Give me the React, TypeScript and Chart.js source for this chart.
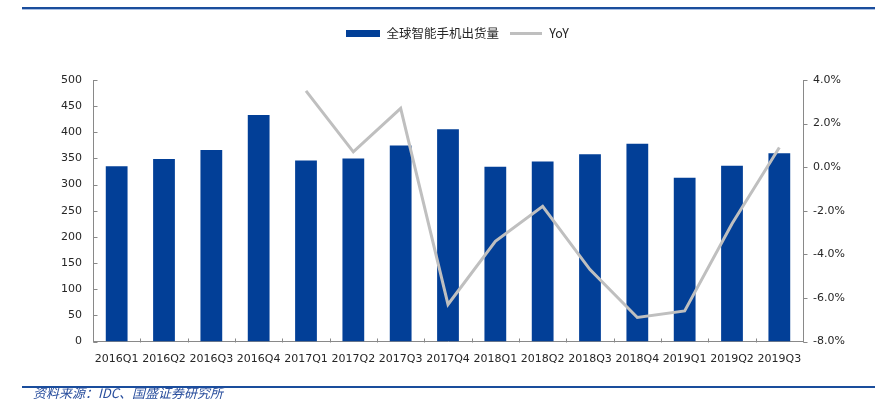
import React, { useEffect, useRef } from 'react';
import { Chart, registerables } from 'chart.js';

Chart.register(...registerables);

// ---- data ----
const categories = [
  '2016Q1', '2016Q2', '2016Q3', '2016Q4',
  '2017Q1', '2017Q2', '2017Q3', '2017Q4',
  '2018Q1', '2018Q2', '2018Q3', '2018Q4',
  '2019Q1', '2019Q2', '2019Q3',
];
const shipments = [335, 349, 366, 433, 346, 350, 375, 406, 334, 344, 358, 378, 313, 336, 360];
const yoyPct = [null, null, null, null, 3.5, 0.7, 2.7, -6.3, -3.4, -1.8, -4.7, -6.9, -6.6, -2.6, 0.9];
const seriesNames = ['全球智能手机出货量', 'YoY'];
const sourceNote = '资料来源：IDC、国盛证券研究所';
const leftAxis = { min: 0, max: 500, step: 50 };
const rightAxis = { min: -8, max: 4, step: 2 };

// ---- styles ----
const BAR_COLOR = '#023F97';
const LINE_COLOR = '#BFBFBF';
const AXIS_COLOR = '#898989';
const TEXT_COLOR = '#262626';
const TICK_FONT = { family: "'DejaVu Sans', sans-serif", size: 11 };
const LEGEND_FONT = { family: "'Noto Sans CJK SC', sans-serif", size: 12.5 };

const tickMarks = {
  id: 'tickMarks',
  afterDraw(chart: any) {
    const { ctx, chartArea: a, scales } = chart;
    ctx.save();
    ctx.strokeStyle = AXIS_COLOR;
    ctx.lineWidth = 1;
    ctx.beginPath();
    const lx = Math.round(a.left) + 0.5;
    const rx = Math.round(a.right) + 0.5;
    scales.y.ticks.forEach((t: any) => {
      const yy = Math.round(scales.y.getPixelForValue(t.value)) + 0.5;
      ctx.moveTo(lx, yy);
      ctx.lineTo(lx + 4, yy);
    });
    scales.y1.ticks.forEach((t: any) => {
      const yy = Math.round(scales.y1.getPixelForValue(t.value)) + 0.5;
      ctx.moveTo(rx, yy);
      ctx.lineTo(rx + 4, yy);
    });
    const n = categories.length;
    const w = scales.x.width / n;
    const by = Math.round(a.bottom) + 0.5;
    for (let i = 0; i <= n; i++) {
      const xx = Math.round(scales.x.getPixelForValue(Math.min(i, n - 1)) + (i < n ? -w / 2 : w / 2)) + 0.5;
      ctx.moveTo(xx, by);
      ctx.lineTo(xx, by - 4);
    }
    ctx.stroke();
    ctx.restore();
  },
};

export default function App() {
  const ref = useRef<HTMLCanvasElement | null>(null);

  useEffect(() => {
    if (!ref.current) return;
    const barSwatch = document.createElement('canvas');
    barSwatch.width = 34;
    barSwatch.height = 7;
    const bctx = barSwatch.getContext('2d')!;
    bctx.fillStyle = BAR_COLOR;
    bctx.fillRect(0, 0, 34, 7);
    const lineSwatch = document.createElement('canvas');
    lineSwatch.width = 32;
    lineSwatch.height = 3;
    const lctx = lineSwatch.getContext('2d')!;
    lctx.fillStyle = LINE_COLOR;
    lctx.fillRect(0, 0, 32, 3);

    const chart = new Chart(ref.current, {
      type: 'bar',
      data: {
        labels: categories,
        datasets: [
          {
            type: 'bar',
            label: seriesNames[0],
            data: shipments,
            backgroundColor: BAR_COLOR,
            yAxisID: 'y',
            xAxisID: 'x',
            barPercentage: 0.46,
            categoryPercentage: 1,
            order: 1,
          },
          {
            type: 'line',
            label: seriesNames[1],
            data: yoyPct as any,
            borderColor: LINE_COLOR,
            backgroundColor: LINE_COLOR,
            borderWidth: 3,
            pointRadius: 0,
            tension: 0,
            spanGaps: false,
            yAxisID: 'y1',
            xAxisID: 'x',
            order: 0,
          },
        ],
      },
      options: {
        responsive: false,
        animation: false,
        devicePixelRatio: 1,
        layout: { padding: { left: 40, top: 17, right: 0, bottom: 0 } },
        plugins: {
          legend: {
            position: 'top',
            labels: {
              usePointStyle: true,
              pointStyleWidth: 34,
              padding: 10,
              font: LEGEND_FONT,
              color: TEXT_COLOR,
              generateLabels: () => [
                { text: seriesNames[0], pointStyle: barSwatch, fillStyle: BAR_COLOR, strokeStyle: BAR_COLOR, lineWidth: 0, hidden: false, datasetIndex: 0, fontColor: TEXT_COLOR },
                { text: seriesNames[1], pointStyle: lineSwatch, fillStyle: LINE_COLOR, strokeStyle: LINE_COLOR, lineWidth: 0, hidden: false, datasetIndex: 1, fontColor: TEXT_COLOR },
              ] as any,
            },
          },
          tooltip: { enabled: false },
        },
        scales: {
          x: {
            grid: { display: false, drawTicks: false },
            border: { display: true, color: AXIS_COLOR },
            ticks: { font: TICK_FONT, color: TEXT_COLOR, padding: 11, maxRotation: 0, autoSkip: false },
            afterFit: (s: any) => { s.height = 59.5; },
          },
          // invisible spacer between the legend and the plot area
          xTop: {
            type: 'category',
            position: 'top',
            grid: { display: false, drawTicks: false },
            border: { display: false },
            ticks: { display: false },
            afterFit: (s: any) => { s.height = 30.5; },
          },
          y: {
            position: 'left',
            min: leftAxis.min,
            max: leftAxis.max,
            grid: { display: false, drawTicks: false },
            border: { display: true, color: AXIS_COLOR },
            ticks: { stepSize: leftAxis.step, font: TICK_FONT, color: TEXT_COLOR, padding: 11 },
            afterFit: (s: any) => { s.width = 53; },
          },
          y1: {
            position: 'right',
            min: rightAxis.min,
            max: rightAxis.max,
            grid: { display: false, drawTicks: false },
            border: { display: true, color: AXIS_COLOR },
            ticks: {
              stepSize: rightAxis.step,
              font: TICK_FONT,
              color: TEXT_COLOR,
              padding: 10,
              callback: (v: any) => Number(v).toFixed(1) + '%',
            },
            afterFit: (s: any) => { s.width = 72; },
          },
        },
      },
      plugins: [tickMarks],
    } as any);
    return () => chart.destroy();
  }, []);

  return (
    <div style={{ position: 'fixed', left: 0, top: 0, width: 875, height: 401, background: '#fff', overflow: 'hidden' }}>
      <canvas ref={ref} width={875} height={401} style={{ position: 'absolute', left: 0, top: 0, width: 875, height: 401 }} />
      <div style={{ position: 'absolute', left: 22, top: 7, width: 853, height: 2, background: '#1A4D9C', borderBottom: '1px solid #A9BFE3' }} />
      <div style={{ position: 'absolute', left: 22, top: 386, width: 853, height: 2, background: '#1A4D9C' }} />
      <div
        style={{
          position: 'absolute',
          left: 33,
          top: 386,
          fontFamily: "'Noto Sans CJK SC', sans-serif",
          fontStyle: 'italic',
          fontSize: 13,
          lineHeight: '13px',
          color: '#2A4F9E',
          whiteSpace: 'nowrap',
        }}
      >
        {sourceNote}
      </div>
    </div>
  );
}
